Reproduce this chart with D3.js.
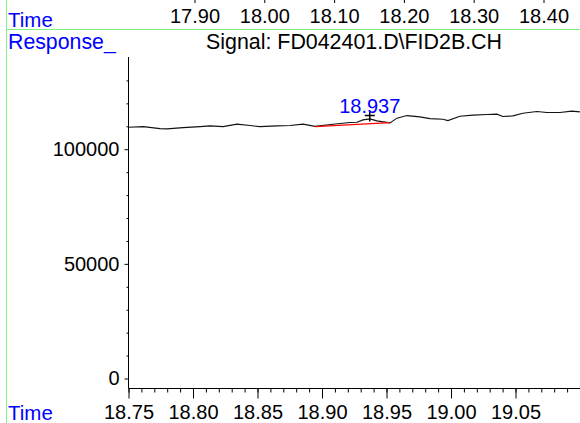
<!DOCTYPE html>
<html>
<head>
<meta charset="utf-8">
<script src="https://cdn.jsdelivr.net/npm/d3@7"></script>
<style>
  body { margin: 0; background: #fff; }
  svg { display: block; }
</style>
</head>
<body>
<svg id="chart" width="580" height="423"></svg>
<script>
// chromatogram trace
const times = [18.750, 18.7614, 18.7745, 18.7799, 18.7923, 18.8055, 18.8132, 18.8233, 18.8341, 18.8442,
  18.8519, 18.8651, 18.8752, 18.8853, 18.8946, 18.9085, 18.9217, 18.9271, 18.9318, 18.9372,
  18.9426, 18.9527, 18.9581, 18.9659, 18.9759, 18.9837, 18.9937, 18.9976, 19.0069, 19.0170,
  19.0278, 19.0356, 19.0402, 19.0480, 19.0557, 19.0666, 19.0743, 19.0844, 19.0937, 19.0999];
const signal = [109610, 109870, 109000, 108870, 109430, 109870, 110180, 109870, 110920, 110310,
  109870, 110180, 110310, 110920, 109960, 110920, 111620, 111790, 112800, 113230,
  112360, 111490, 113540, 114670, 114100, 113360, 113100, 112490, 114410, 114850,
  115110, 115280, 114240, 114540, 115720, 116420, 115980, 115980, 116590, 116290];

// integration baseline under the peak
const baseTimes = [18.8946, 18.9527];
const baseVals = [109870, 111620];

const peakTime = 18.937;
const peakVal = 114670;
const peakLabel = "18.937";

const bottomTicks = [18.75, 18.80, 18.85, 18.90, 18.95, 19.00, 19.05];
const topTicks = [17.90, 18.00, 18.10, 18.20, 18.30, 18.40];
const yTicks = [0, 50000, 100000];
const yMinor = [10000, 20000, 30000, 40000, 60000, 70000, 80000, 90000, 110000, 120000, 130000];

const title = "Signal: FD042401.D\\FID2B.CH";

const font = "'Liberation Sans', Arial, sans-serif";
const svg = d3.select("#chart");

const x = d3.scaleLinear().domain([18.75, 19.10]).range([128.5, 580]);
const y = d3.scaleLinear().domain([0, 140000]).range([378.5, 57.5]);
// the panel above only shows its time axis
const xTop = d3.scaleLinear().domain([17.90, 18.40]).range([194.5, 543.5]);

const axisY = 388.5;

// green frame lines
svg.append("line").attr("x1", 6.5).attr("x2", 6.5).attr("y1", 0).attr("y2", 423)
  .attr("stroke", "#80f080").attr("stroke-width", 1);
svg.append("line").attr("x1", 6.5).attr("x2", 580).attr("y1", 29.5).attr("y2", 29.5)
  .attr("stroke", "#80f080").attr("stroke-width", 1);

// top time axis (remnant of previous panel)
const topAxis = svg.append("g").attr("transform", "translate(0,-5)")
  .call(d3.axisBottom(xTop).tickValues(topTicks).tickSize(8).tickPadding(6)
    .tickFormat(d3.format(".2f")).tickSizeOuter(0));
topAxis.select(".domain").remove();

// blue labels
const blue = "#0000ff";
svg.append("text").attr("x", 8).attr("y", 26.5).text("Time")
  .attr("fill", blue).attr("font-size", "20.5px").attr("font-family", font);
svg.append("text").attr("x", 8).attr("y", 49).text("Response_")
  .attr("fill", blue).attr("font-size", "21.3px").attr("font-family", font);
svg.append("text").attr("x", 8).attr("y", 420).text("Time")
  .attr("fill", blue).attr("font-size", "20.5px").attr("font-family", font);

svg.append("text").attr("x", 354).attr("y", 49).text(title)
  .attr("text-anchor", "middle").attr("fill", "#000")
  .attr("font-size", "21.4px").attr("font-family", font);

// y axis
svg.append("line").attr("x1", 128.5).attr("x2", 128.5).attr("y1", 57).attr("y2", axisY)
  .attr("stroke", "#000");
svg.append("g").attr("transform", "translate(128.5,0)")
  .call(d3.axisLeft(y).tickValues(yMinor).tickSize(2).tickFormat(""))
  .select(".domain").remove();
const yAx = svg.append("g").attr("transform", "translate(128.5,0)")
  .call(d3.axisLeft(y).tickValues(yTicks).tickSize(4).tickPadding(5).tickFormat(d3.format("d")));
yAx.select(".domain").remove();

// x axis
svg.append("line").attr("x1", 128.5).attr("x2", 580).attr("y1", axisY).attr("y2", axisY)
  .attr("stroke", "#000");
svg.append("g").attr("transform", "translate(0," + axisY + ")")
  .call(d3.axisBottom(x).tickValues(d3.range(18.75, 19.095, 0.01)).tickSize(4).tickFormat(""))
  .select(".domain").remove();
const xAx = svg.append("g").attr("transform", "translate(0," + axisY + ")")
  .call(d3.axisBottom(x).tickValues(bottomTicks).tickSize(10).tickPadding(6)
    .tickFormat(d3.format(".2f")));
xAx.select(".domain").remove();

svg.selectAll(".tick text").attr("font-size", "20px").attr("font-family", font).attr("fill", "#000");
svg.selectAll(".tick line").attr("stroke", "#000");

// signal trace
const line = d3.line().x(d => x(d[0])).y(d => y(d[1]));
svg.append("path").datum(times.map((t, i) => [t, signal[i]]))
  .attr("d", line).attr("fill", "none").attr("stroke", "#111").attr("stroke-width", 1.1);

// baseline
svg.append("path").datum(baseTimes.map((t, i) => [t, baseVals[i]]))
  .attr("d", line).attr("fill", "none").attr("stroke", "#ff0000").attr("stroke-width", 1.2);

// peak marker and label
const px = x(peakTime), py = y(peakVal);
svg.append("path").attr("d", `M${px - 5},${py}H${px + 5}M${px},${py - 5}V${py + 6}`)
  .attr("stroke", "#000").attr("stroke-width", 1.5).attr("fill", "none");
svg.append("text").attr("x", px).attr("y", 113).text(peakLabel)
  .attr("text-anchor", "middle").attr("fill", blue)
  .attr("font-size", "20px").attr("font-family", font);
</script>
</body>
</html>
